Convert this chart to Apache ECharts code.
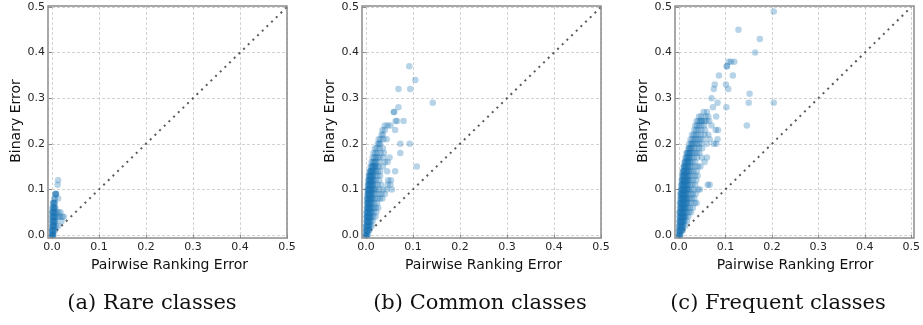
<!DOCTYPE html>
<html>
<head>
<meta charset="utf-8">
<script src="https://cdn.jsdelivr.net/npm/echarts@6/dist/echarts.min.js"></script>
<style>
  html, body { margin: 0; padding: 0; background: #fff; }
  #chart { width: 923px; height: 325px; }
</style>
</head>
<body>
<div id="chart"></div>
<script>
// ticks shared by all three panels (both axes)
const tickValues = [0, 0.1, 0.2, 0.3, 0.4, 0.5];
const captions = ['(a) Rare classes', '(b) Common classes', '(c) Frequent classes'];
const xName = 'Pairwise Ranking Error';
const yName = 'Binary Error';

// each row: [binary error, [pairwise ranking errors of the classes on that row]]
const rareRows = [
  [0.00, [0.000, 0.001, 0.002, 0.003, 0.000, 0.001, 0.002]],
  [0.01, [0.000, 0.001, 0.002, 0.004, 0.006, 0.001, 0.003, 0.000]],
  [0.02, [0.000, 0.002, 0.003, 0.005, 0.008, 0.013, 0.001, 0.004, 0.002]],
  [0.03, [0.001, 0.003, 0.005, 0.007, 0.020, 0.002, 0.004, 0.000, 0.006]],
  [0.04, [0.001, 0.002, 0.004, 0.006, 0.009, 0.013, 0.017, 0.022, 0.025, 0.003, 0.005, 0.000]],
  [0.05, [0.000, 0.002, 0.004, 0.006, 0.010, 0.014, 0.018, 0.003, 0.005, 0.001]],
  [0.06, [0.001, 0.003, 0.005, 0.007, 0.002, 0.004, 0.006]],
  [0.07, [0.002, 0.004, 0.006, 0.003, 0.005]],
  [0.08, [0.005, 0.013, 0.006]],
  [0.09, [0.007, 0.009, 0.008, 0.008]],
  [0.11, [0.012]],
  [0.12, [0.013]]
];

const commonRows = [
  [0.00, [0.000, 0.001, 0.002, 0.004, 0.000, 0.001]],
  [0.01, [0.000, 0.001, 0.002, 0.003, 0.005, 0.007, 0.001, 0.002, 0.004]],
  [0.02, [0.000, 0.001, 0.002, 0.004, 0.006, 0.009, 0.012, 0.001, 0.003, 0.005, 0.007]],
  [0.03, [0.001, 0.002, 0.003, 0.005, 0.007, 0.010, 0.014, 0.002, 0.004, 0.006, 0.008]],
  [0.04, [0.001, 0.002, 0.004, 0.006, 0.008, 0.011, 0.015, 0.020, 0.002, 0.003, 0.005, 0.007, 0.009]],
  [0.05, [0.001, 0.003, 0.004, 0.006, 0.009, 0.012, 0.016, 0.022, 0.002, 0.004, 0.005, 0.008, 0.010]],
  [0.06, [0.002, 0.003, 0.005, 0.007, 0.009, 0.013, 0.017, 0.021, 0.026, 0.003, 0.004, 0.006, 0.008, 0.011]],
  [0.07, [0.002, 0.004, 0.005, 0.007, 0.010, 0.013, 0.018, 0.024, 0.003, 0.005, 0.006, 0.008, 0.011]],
  [0.08, [0.002, 0.004, 0.006, 0.008, 0.010, 0.012, 0.015, 0.019, 0.025, 0.030, 0.035, 0.003, 0.005, 0.007, 0.009, 0.012]],
  [0.09, [0.003, 0.005, 0.006, 0.008, 0.010, 0.013, 0.016, 0.020, 0.027, 0.033, 0.040, 0.004, 0.006, 0.007, 0.009, 0.011]],
  [0.10, [0.003, 0.005, 0.007, 0.009, 0.011, 0.014, 0.018, 0.022, 0.028, 0.036, 0.044, 0.055, 0.004, 0.006, 0.008, 0.010, 0.012, 0.016]],
  [0.11, [0.004, 0.006, 0.008, 0.010, 0.012, 0.015, 0.019, 0.025, 0.032, 0.046, 0.052, 0.005, 0.007, 0.009, 0.011, 0.014]],
  [0.12, [0.005, 0.007, 0.009, 0.011, 0.013, 0.016, 0.021, 0.028, 0.047, 0.053, 0.006, 0.008, 0.010, 0.012, 0.015]],
  [0.13, [0.006, 0.008, 0.010, 0.012, 0.015, 0.019, 0.024, 0.030, 0.007, 0.009, 0.011, 0.014]],
  [0.14, [0.008, 0.010, 0.012, 0.014, 0.017, 0.021, 0.025, 0.030, 0.045, 0.062, 0.009, 0.011, 0.013, 0.016]],
  [0.15, [0.010, 0.013, 0.015, 0.018, 0.020, 0.023, 0.027, 0.036, 0.108, 0.012, 0.016, 0.019]],
  [0.16, [0.012, 0.015, 0.019, 0.022, 0.028, 0.040, 0.046, 0.017]],
  [0.17, [0.014, 0.018, 0.021, 0.025, 0.029, 0.037, 0.050]],
  [0.18, [0.016, 0.020, 0.024, 0.031, 0.038, 0.073]],
  [0.19, [0.019, 0.023, 0.029, 0.036]],
  [0.20, [0.025, 0.028, 0.030, 0.073, 0.093]],
  [0.21, [0.027, 0.031, 0.037, 0.044]],
  [0.22, [0.033, 0.036]],
  [0.23, [0.035, 0.040, 0.062]],
  [0.24, [0.040, 0.046, 0.052]],
  [0.25, [0.063, 0.066, 0.080]],
  [0.27, [0.059, 0.060]],
  [0.28, [0.069]],
  [0.29, [0.142]],
  [0.32, [0.069, 0.094]],
  [0.34, [0.105]],
  [0.37, [0.092]]
];

const frequentRows = [
  [0.00, [0.000, 0.001, 0.002, 0.003, 0.000, 0.001]],
  [0.01, [0.000, 0.001, 0.002, 0.004, 0.006, 0.008, 0.001, 0.003, 0.005]],
  [0.02, [0.000, 0.001, 0.003, 0.004, 0.006, 0.009, 0.013, 0.002, 0.005, 0.007, 0.008]],
  [0.03, [0.001, 0.002, 0.003, 0.005, 0.007, 0.009, 0.012, 0.017, 0.002, 0.004, 0.006, 0.008, 0.010]],
  [0.04, [0.001, 0.002, 0.004, 0.005, 0.007, 0.009, 0.012, 0.015, 0.020, 0.003, 0.006, 0.008, 0.010, 0.011]],
  [0.05, [0.001, 0.003, 0.004, 0.006, 0.008, 0.010, 0.013, 0.017, 0.022, 0.026, 0.002, 0.005, 0.007, 0.009, 0.012]],
  [0.06, [0.002, 0.003, 0.005, 0.006, 0.008, 0.010, 0.012, 0.015, 0.019, 0.024, 0.030, 0.004, 0.007, 0.009, 0.011, 0.014]],
  [0.07, [0.002, 0.004, 0.005, 0.007, 0.009, 0.011, 0.014, 0.017, 0.021, 0.026, 0.034, 0.038, 0.003, 0.006, 0.008, 0.010, 0.013, 0.016]],
  [0.08, [0.003, 0.004, 0.006, 0.008, 0.010, 0.012, 0.015, 0.018, 0.023, 0.028, 0.033, 0.005, 0.007, 0.009, 0.011, 0.014, 0.017]],
  [0.09, [0.003, 0.005, 0.007, 0.009, 0.011, 0.013, 0.016, 0.020, 0.025, 0.030, 0.036, 0.004, 0.006, 0.008, 0.010, 0.012, 0.015]],
  [0.10, [0.004, 0.006, 0.008, 0.010, 0.012, 0.014, 0.017, 0.021, 0.026, 0.032, 0.041, 0.045, 0.005, 0.007, 0.009, 0.011, 0.013, 0.016, 0.019]],
  [0.11, [0.005, 0.007, 0.009, 0.011, 0.013, 0.016, 0.019, 0.024, 0.029, 0.035, 0.062, 0.066, 0.006, 0.008, 0.010, 0.012, 0.015, 0.018]],
  [0.12, [0.006, 0.008, 0.010, 0.012, 0.014, 0.017, 0.020, 0.024, 0.030, 0.037, 0.007, 0.009, 0.011, 0.013, 0.016, 0.019]],
  [0.13, [0.007, 0.009, 0.011, 0.013, 0.016, 0.019, 0.023, 0.028, 0.034, 0.040, 0.008, 0.010, 0.012, 0.015, 0.018]],
  [0.14, [0.008, 0.010, 0.012, 0.015, 0.018, 0.022, 0.026, 0.031, 0.038, 0.009, 0.011, 0.014, 0.017, 0.020]],
  [0.15, [0.010, 0.012, 0.014, 0.017, 0.020, 0.024, 0.028, 0.034, 0.041, 0.046, 0.011, 0.013, 0.016, 0.019]],
  [0.16, [0.012, 0.014, 0.017, 0.020, 0.024, 0.029, 0.035, 0.055, 0.013, 0.016, 0.019, 0.022]],
  [0.17, [0.014, 0.017, 0.020, 0.023, 0.027, 0.032, 0.039, 0.049, 0.060, 0.016, 0.019, 0.022]],
  [0.18, [0.016, 0.019, 0.022, 0.026, 0.030, 0.034, 0.039, 0.044, 0.018, 0.021, 0.024]],
  [0.19, [0.020, 0.023, 0.027, 0.032, 0.037, 0.043, 0.050, 0.022, 0.025]],
  [0.20, [0.022, 0.026, 0.030, 0.034, 0.038, 0.043, 0.048, 0.060, 0.075, 0.080, 0.028]],
  [0.21, [0.025, 0.029, 0.033, 0.037, 0.041, 0.046, 0.052, 0.066, 0.083]],
  [0.22, [0.028, 0.032, 0.036, 0.041, 0.047, 0.055, 0.063]],
  [0.23, [0.033, 0.037, 0.042, 0.048, 0.056, 0.079, 0.084]],
  [0.24, [0.035, 0.039, 0.043, 0.048, 0.054, 0.070, 0.146]],
  [0.25, [0.038, 0.042, 0.046, 0.050, 0.055, 0.059, 0.065, 0.048]],
  [0.26, [0.043, 0.048, 0.057, 0.063, 0.080]],
  [0.27, [0.053, 0.060]],
  [0.28, [0.073, 0.102]],
  [0.29, [0.083, 0.150, 0.204]],
  [0.30, [0.070]],
  [0.31, [0.152]],
  [0.32, [0.075, 0.106]],
  [0.33, [0.077, 0.101]],
  [0.35, [0.086, 0.116]],
  [0.37, [0.103, 0.103]],
  [0.38, [0.107, 0.112, 0.119]],
  [0.40, [0.164]],
  [0.43, [0.174]],
  [0.45, [0.128]],
  [0.49, [0.204]]
];

const diagonal = [[0, 0], [0.5, 0.5]];

function toPoints(rows) {
  const pts = [];
  rows.forEach(r => r[1].forEach(x => pts.push([x, r[0]])));
  return pts;
}

const panels = [rareRows, commonRows, frequentRows];
const plotLeft = [52, 366, 679];
const plotTop = 7;
const plotW = 235;
const plotH = 228;
const captionX = [152, 480, 778];

const chart = echarts.init(document.getElementById('chart'), null, { renderer: 'canvas' });

const option = {
  backgroundColor: '#ffffff',
  animation: false,
  grid: [],
  xAxis: [],
  yAxis: [],
  series: [],
  graphic: []
};

const labelStyle = {
  fontSize: 11,
  color: '#262626',
  fontFamily: 'DejaVu Sans',
  formatter: v => v.toFixed(1)
};
const splitStyle = { show: true, lineStyle: { color: '#c8c8c8', width: 0.8, type: [3, 2] } };
const tickStyle = { show: true, length: 3.5, lineStyle: { color: '#8c8c8c', width: 1 } };
const nameStyle = { fontSize: 14, color: '#111', fontFamily: 'DejaVu Sans' };

for (let i = 0; i < 3; i++) {
  option.grid.push({ left: plotLeft[i], top: plotTop, width: plotW, height: plotH });
  option.xAxis.push({
    gridIndex: i, type: 'value', min: 0, max: 0.5, interval: 0.1, offset: 3,
    axisLine: { show: false },
    axisTick: tickStyle,
    axisLabel: Object.assign({ margin: 4 }, labelStyle),
    splitLine: splitStyle,
    name: xName, nameLocation: 'middle', nameGap: 18, nameTextStyle: nameStyle
  });
  option.yAxis.push({
    gridIndex: i, type: 'value', min: 0, max: 0.5, interval: 0.1, offset: 4,
    axisLine: { show: false },
    axisTick: tickStyle,
    axisLabel: Object.assign({ margin: 3 }, labelStyle),
    splitLine: splitStyle,
    name: yName, nameLocation: 'middle', nameGap: 24, nameTextStyle: nameStyle
  });
  option.series.push({
    type: 'line', xAxisIndex: i, yAxisIndex: i, data: diagonal,
    symbol: 'none', silent: true, z: 3,
    lineStyle: { color: '#5a5a5a', width: 2, type: [2, 4.5] }
  });
  option.series.push({
    type: 'scatter', xAxisIndex: i, yAxisIndex: i, data: toPoints(panels[i]),
    symbolSize: 6.5, clip: false, silent: true, z: 4,
    itemStyle: { color: '#1f77b4', opacity: 0.32 }
  });
  // matplotlib-style frame around the plot area
  option.graphic.push({
    type: 'rect', z: 100, silent: true,
    shape: { x: plotLeft[i] - 4, y: plotTop - 1, width: plotW + 4, height: plotH + 4 },
    style: { fill: 'none', stroke: '#8c8c8c', lineWidth: 1.5 }
  });
  option.graphic.push({
    type: 'text', z: 100, silent: true,
    x: captionX[i], y: 304,
    style: {
      text: captions[i], fill: '#111', font: '21px "DejaVu Serif"',
      textAlign: 'center', textVerticalAlign: 'middle'
    }
  });
}

chart.setOption(option);
</script>
</body>
</html>
